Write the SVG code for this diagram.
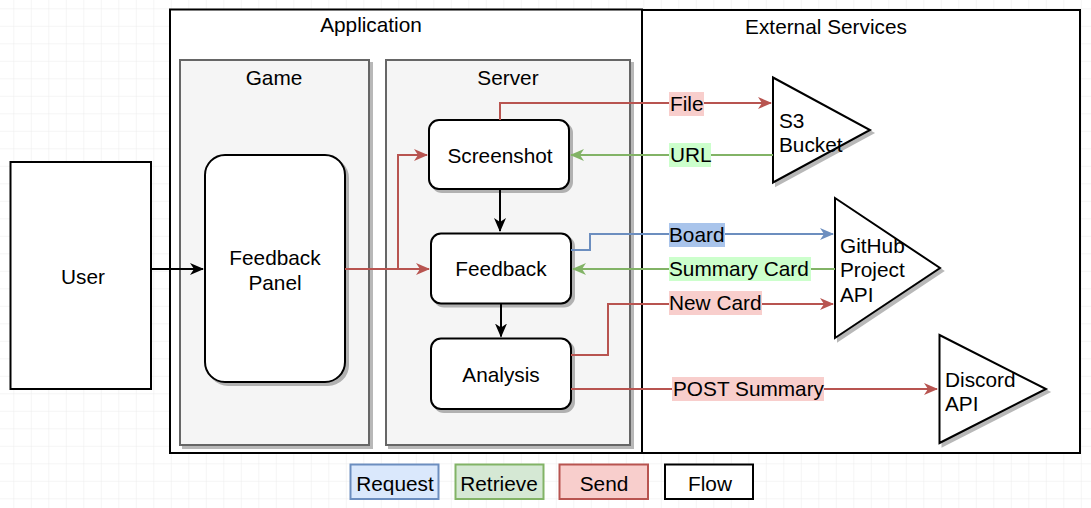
<svg xmlns="http://www.w3.org/2000/svg" width="1091" height="508" viewBox="0 0 1091 508">
<defs>
<pattern id="grid" x="13.3" y="8.3" width="17.5" height="17.5" patternUnits="userSpaceOnUse">
<path d="M 0 0 L 17.5 0 M 0 0 L 0 17.5" fill="none" stroke="#ececec" stroke-width="1"/>
</pattern>
<filter id="sh" x="-10%" y="-10%" width="130%" height="130%">
<feOffset in="SourceAlpha" dx="3" dy="3" result="o"/>
<feFlood flood-color="#000" flood-opacity="0.28"/>
<feComposite in2="o" operator="in" result="s"/>
<feMerge><feMergeNode in="s"/><feMergeNode in="SourceGraphic"/></feMerge>
</filter>
<marker id="mkK" viewBox="0 0 14 12" refX="13" refY="6" markerWidth="14" markerHeight="12" orient="auto" markerUnits="userSpaceOnUse">
<path d="M0,0 L14,6 L0,12 L4,6 Z" fill="#000"/>
</marker>
<marker id="mkR" viewBox="0 0 14 12" refX="13" refY="6" markerWidth="14" markerHeight="12" orient="auto" markerUnits="userSpaceOnUse">
<path d="M0,0 L14,6 L0,12 L4,6 Z" fill="#b85450"/>
</marker>
<marker id="mkG" viewBox="0 0 14 12" refX="13" refY="6" markerWidth="14" markerHeight="12" orient="auto" markerUnits="userSpaceOnUse">
<path d="M0,0 L14,6 L0,12 L4,6 Z" fill="#82b366"/>
</marker>
<marker id="mkB" viewBox="0 0 14 12" refX="13" refY="6" markerWidth="14" markerHeight="12" orient="auto" markerUnits="userSpaceOnUse">
<path d="M0,0 L14,6 L0,12 L4,6 Z" fill="#6c8ebf"/>
</marker>
</defs>
<style>
text{font-family:"Liberation Sans",Arial,sans-serif;font-size:20.8px;fill:#000;}
.c{text-anchor:middle;}
.box{fill:#fff;stroke:#000;stroke-width:2;}
.cont{fill:#fff;stroke:#000;stroke-width:2;}
.grp{fill:#f5f5f5;stroke:#666;stroke-width:2;}
.k{fill:none;stroke:#000;stroke-width:2;}
.r{fill:none;stroke:#b85450;stroke-width:2;}
.g{fill:none;stroke:#82b366;stroke-width:2;}
.b{fill:none;stroke:#6c8ebf;stroke-width:2;}
</style>
<rect width="1091" height="508" fill="#fff"/>
<rect width="1091" height="508" fill="url(#grid)"/>

<g id="application">
<rect class="cont" x="170" y="9.5" width="472" height="443.5"/>
<text class="c" x="371" y="32">Application</text>
</g>
<g id="external-services">
<rect class="cont" x="642" y="10" width="438" height="443"/>
<text class="c" x="826" y="34">External Services</text>
</g>
<g id="game">
<rect class="grp" x="180" y="60" width="189" height="385" filter="url(#sh)"/>
<text class="c" x="274" y="85">Game</text>
</g>
<g id="server">
<rect class="grp" x="386" y="60" width="244" height="385" filter="url(#sh)"/>
<text class="c" x="508" y="85">Server</text>
</g>

<g id="user">
<rect class="box" x="10.5" y="162" width="140.5" height="227"/>
<text class="c" x="83" y="284">User</text>
</g>
<g id="feedback-panel">
<rect class="box" x="205" y="155" width="140" height="227" rx="20" filter="url(#sh)"/>
<text class="c" x="275" y="265">Feedback</text>
<text class="c" x="275" y="290">Panel</text>
</g>
<g id="screenshot">
<rect class="box" x="429" y="120" width="140" height="69" rx="10" filter="url(#sh)"/>
<text class="c" x="500" y="163">Screenshot</text>
</g>
<g id="feedback">
<rect class="box" x="431" y="233.5" width="140" height="70" rx="10" filter="url(#sh)"/>
<text class="c" x="501" y="276">Feedback</text>
</g>
<g id="analysis">
<rect class="box" x="431" y="338.5" width="140" height="70.5" rx="10" filter="url(#sh)"/>
<text class="c" x="501" y="382">Analysis</text>
</g>
<g id="s3-bucket">
<polygon class="box" points="773,77.5 870,130 773,182.5" filter="url(#sh)"/>
<text x="779" y="128">S3</text>
<text x="779" y="152">Bucket</text>
</g>
<g id="github-project-api">
<polygon class="box" points="835,198 940,268 835,338" filter="url(#sh)"/>
<text x="840" y="253">GitHub</text>
<text x="840" y="277">Project</text>
<text x="840" y="302">API</text>
</g>
<g id="discord-api">
<polygon class="box" points="939.5,335 1046,389 939.5,443" filter="url(#sh)"/>
<text x="945" y="387">Discord</text>
<text x="945" y="411">API</text>
</g>

<g id="connectors">
<path class="k" d="M151,269 L203,269" marker-end="url(#mkK)"/>
<path class="r" d="M345,269 L398,269 L398,155 L427,155" marker-end="url(#mkR)"/>
<path class="r" d="M345,269 L429,269" marker-end="url(#mkR)"/>
<path class="k" d="M500,189 L500,231" marker-end="url(#mkK)"/>
<path class="k" d="M501,303.5 L501,336.5" marker-end="url(#mkK)"/>
<path class="r" d="M500,120 L500,103 L771,103" marker-end="url(#mkR)"/>
<path class="g" d="M773,155 L571,155" marker-end="url(#mkG)"/>
<path class="b" d="M571,250 L590,250 L590,234 L833,234" marker-end="url(#mkB)"/>
<path class="g" d="M835,269 L573,269" marker-end="url(#mkG)"/>
<path class="r" d="M571,355 L608,355 L608,304 L833,304" marker-end="url(#mkR)"/>
<path class="r" d="M571,389 L937,389" marker-end="url(#mkR)"/>
<rect x="669" y="92" width="35" height="24" fill="#f8cecc"/>
<text x="670" y="111">File</text>
<rect x="669" y="143" width="42" height="24" fill="#ccffcc"/>
<text x="670" y="162">URL</text>
<rect x="669" y="223" width="56" height="24" fill="#a9c4eb"/>
<text x="669" y="242">Board</text>
<rect x="669" y="257" width="142" height="24" fill="#ccffcc"/>
<text x="669" y="276">Summary Card</text>
<rect x="669" y="291" width="93" height="24" fill="#f8cecc"/>
<text x="669" y="310">New Card</text>
<rect x="672" y="377" width="152" height="24" fill="#f8cecc"/>
<text x="673" y="396">POST Summary</text>
</g>

<g id="legend-request">
<rect x="350.5" y="464.5" width="88" height="34.5" fill="#dae8fc" stroke="#6c8ebf" stroke-width="2"/>
<text class="c" x="395" y="491">Request</text>
</g>
<g id="legend-retrieve">
<rect x="455.5" y="464.5" width="88" height="34.5" fill="#d5e8d4" stroke="#82b366" stroke-width="2"/>
<text class="c" x="499" y="491">Retrieve</text>
</g>
<g id="legend-send">
<rect x="559.5" y="464.5" width="88.5" height="34.5" fill="#f8cecc" stroke="#b85450" stroke-width="2"/>
<text class="c" x="604" y="491">Send</text>
</g>
<g id="legend-flow">
<rect x="665" y="464.5" width="88" height="34.5" fill="#fff" stroke="#000" stroke-width="2"/>
<text class="c" x="710" y="491">Flow</text>
</g>
</svg>
